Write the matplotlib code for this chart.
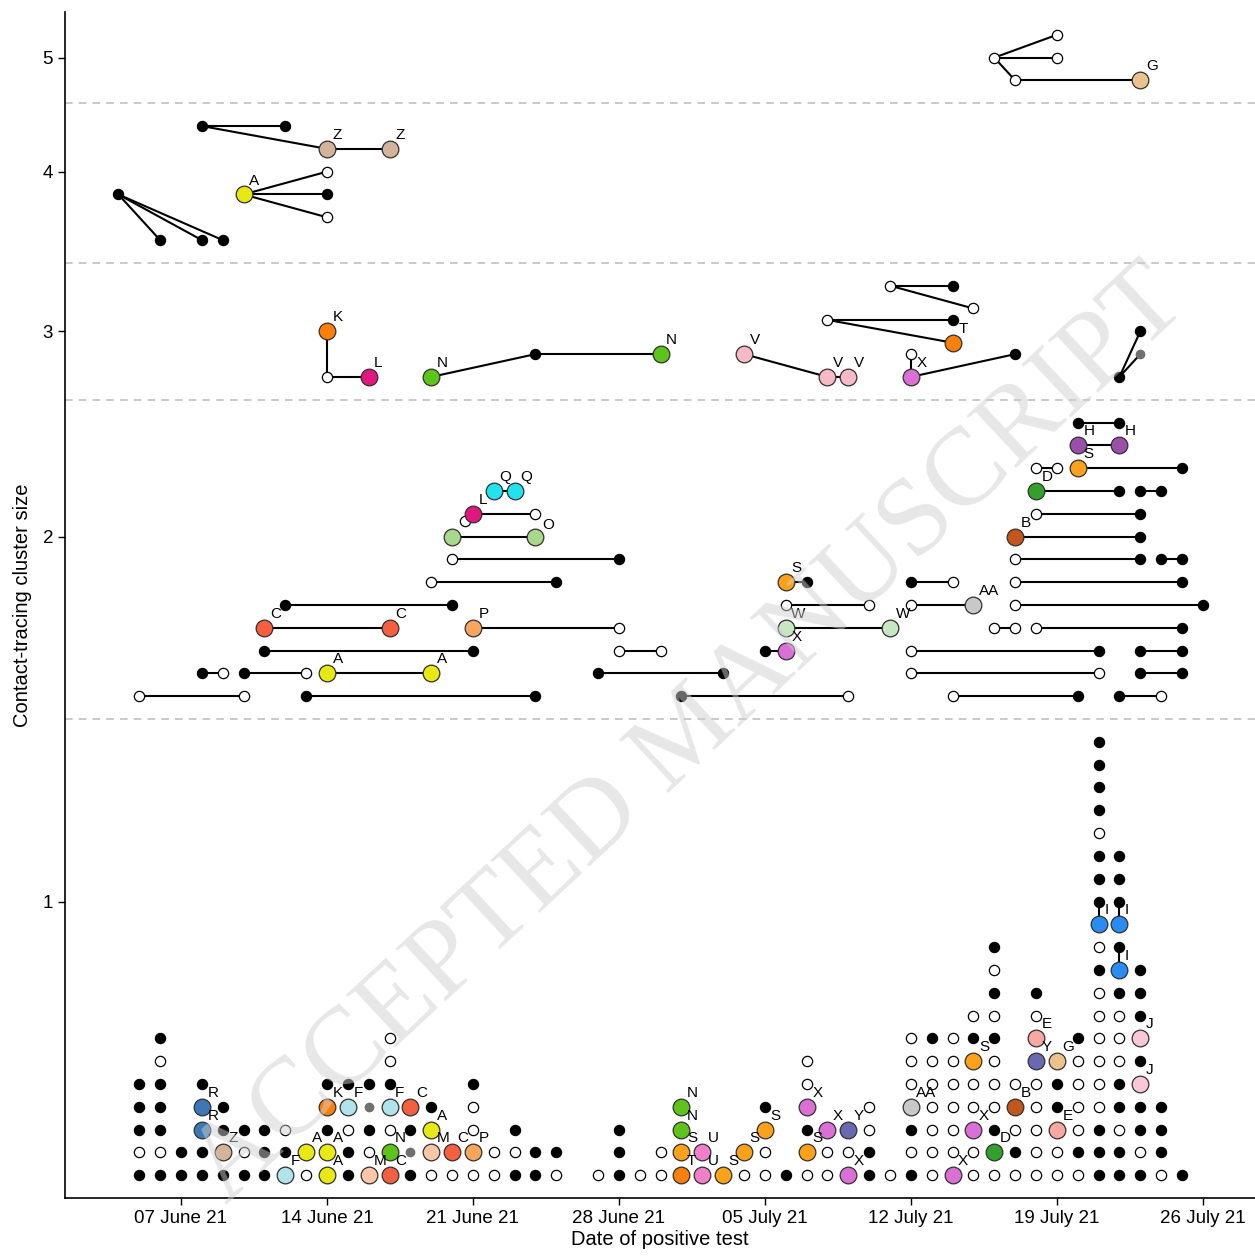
import numpy as np
import matplotlib
matplotlib.use('Agg')
import matplotlib.pyplot as plt
import matplotlib.dates as mdates

plt.rcParams['font.family'] = ['Liberation Sans', 'DejaVu Sans']

start_date = np.datetime64('2021-06-07')   # day 0

# --- cluster size 1: one stack per day (codes bottom to top) ---
# f = black, o = open, g = grey, letters = named cluster
single_days = [-2, -1, 0, 1, 2, 3, 4, 5, 6, 7, 8, 9, 10, 11, 12, 13, 14, 15, 16, 17, 18,
               20, 21, 22, 23, 24, 25, 26, 27, 28, 29, 30, 31, 32, 33, 34, 35, 36, 37, 38,
               39, 40, 41, 42, 43, 44, 45, 46, 47, 48]
single_stacks = [
    "f o f f f", "f o f f f o f", "f f", "f f R R f", "f Z f f", "f o f", "f f f",
    "F f o", "o A", "A A f K f", "f f o F f", "M o f g f", "C N o F f o o", "f g f C",
    "o M A f", "o C", "o P o o f", "o o", "f o f", "f f", "o f",
    "o", "f f f", "o", "o o", "T S N N", "U U", "S", "o S", "o o S f", "f",
    "o S f X o o", "o o X", "X o Y", "f f o o", "o", "f o f AA o o o", "o o o o o o f",
    "X o o o o o o", "o o X o o S f o", "o D f o o o f o f o f", "o f o B o",
    "o o o o o Y E o f", "o o E f f G", "o f o o o o f",
    "f f f o o o o o o f o I f f f o f f f f",
    "f f o f f o o o f I f I f f f", "f o f f J f J f f f", "o f f f", "f"]
single_links = [(44, 13, 12), (45, 13, 12), (45, 11, 10)]

# --- cluster size 2: (row, day a, code a, day b, code b) ---
pairs = [
    (22, -2, 'o', 3, 'o'), (22, 6, 'f', 17, 'f'), (22, 24, 'f', 32, 'o'),
    (22, 37, 'o', 43, 'f'), (22, 45, 'f', 47, 'o'),
    (23, 1, 'f', 2, 'o'), (23, 3, 'f', 6, 'o'), (23, 7, 'A', 12, 'A'),
    (23, 20, 'f', 26, 'f'), (23, 35, 'o', 44, 'o'), (23, 46, 'f', 48, 'f'),
    (24, 4, 'f', 14, 'f'), (24, 21, 'o', 23, 'o'), (24, 28, 'f', 29, 'X'),
    (24, 35, 'o', 44, 'f'), (24, 46, 'f', 48, 'f'),
    (25, 4, 'C', 10, 'C'), (25, 14, 'P', 21, 'o'), (25, 29, 'W', 34, 'W'),
    (25, 39, 'o', 40, 'o'), (25, 41, 'o', 48, 'f'),
    (26, 5, 'f', 13, 'f'), (26, 29, 'o', 33, 'o'), (26, 35, 'o', 38, 'AA'),
    (26, 40, 'o', 49, 'f'),
    (27, 12, 'o', 18, 'f'), (27, 29, 'S', 30, 'f'), (27, 35, 'f', 37, 'o'),
    (27, 40, 'o', 48, 'f'),
    (28, 13, 'o', 21, 'f'), (28, 40, 'o', 46, 'f'), (28, 47, 'f', 48, 'f'),
    (29, 13, 'lg', 17, 'lg'), (29, 40, 'B', 46, 'f'),
    (30, 14, 'L', 17, 'O'), (30, 41, 'o', 46, 'f'),
    (31, 15, 'Q', 16, 'Q'), (31, 41, 'D', 45, 'f'), (31, 46, 'f', 47, 'f'),
    (32, 41, 'o', 42, 'o'), (32, 43, 'S', 48, 'f'),
    (33, 43, 'H', 45, 'H'),
    (34, 43, 'f', 45, 'f'),
]
pair_extra = [(13.6, 29.7, 'o')]

# --- cluster sizes 3-5: nodes (day, row, code) and edges ---
tree_nodes = [
    (7, 38, 'K'), (7, 36, 'o'), (9, 36, 'L'),
    (12, 36, 'N'), (17, 37, 'f'), (23, 37, 'N'),
    (27, 37, 'V'), (31, 36, 'V'), (32, 36, 'V'),
    (34, 40, 'o'), (37, 40, 'f'), (38, 39, 'o'),
    (31, 38.5, 'o'), (37, 38.5, 'f'), (37, 37.5, 'T'),
    (35, 37, 'o'), (35, 36, 'X'), (40, 37, 'f'),
    (45, 36, 'f'), (46, 38, 'f'), (46, 37, 'g'),
    (1, 47, 'f'), (5, 47, 'f'), (7, 46, 'Z'), (10, 46, 'Z'),
    (3, 44, 'A'), (7, 45, 'o'), (7, 44, 'f'), (7, 43, 'o'),
    (-3, 44, 'f'), (-1, 42, 'f'), (1, 42, 'f'), (2, 42, 'f'),
    (39, 50, 'o'), (42, 51, 'o'), (42, 50, 'o'), (40, 49, 'o'), (46, 49, 'G'),
]
tree_edges = [(0, 1), (1, 2), (3, 4), (4, 5), (6, 7), (7, 8), (9, 10), (9, 11),
              (12, 13), (12, 14), (15, 16), (16, 17), (18, 19), (18, 20),
              (21, 22), (21, 23), (23, 24), (25, 26), (25, 27), (25, 28),
              (29, 30), (29, 31), (29, 32), (33, 34), (33, 35), (33, 36), (36, 37)]

size_ticks = [13, 29, 38, 45, 50]
size_labels = ['1', '2', '3', '4', '5']
section_breaks = [21, 35, 41, 48]

cluster_colours = {
    'A': '#E8E815', 'B': '#C2561C', 'C': '#F4603F', 'D': '#33A02C', 'E': '#F6A8A2',
    'F': '#B0E4EA', 'G': '#E9C28E', 'H': '#9A4FA8', 'I': '#2A8CF0', 'J': '#F9C8D8',
    'K': '#FB7F0A', 'L': '#E0177E', 'M': '#FCC6A8', 'N': '#5EC41C', 'P': '#F8A65E',
    'Q': '#22E2EC', 'R': '#3B78B4', 'S': '#FBA21A', 'T': '#FB7F0A', 'U': '#F07FC9',
    'V': '#F8B9C6', 'W': '#C9E6C2', 'X': '#DA70D6', 'Y': '#6A68B0', 'Z': '#D2B49A',
    'AA': '#C8C8C8', 'lg': '#A8D88C',
}

x0 = mdates.date2num(start_date)

fig = plt.figure(figsize=(12.55, 12.58), dpi=100)
ax = fig.add_axes([65 / 1255, 60 / 1258, 1 - 65 / 1255, 1186 / 1258])


def point(day, row, code):
    x = x0 + day
    if code == 'f':
        ax.plot(x, row, 'o', ms=7.4, mfc='black', mec='black', mew=0.8, zorder=3)
    elif code in ('o', 'O'):
        ax.plot(x, row, 'o', ms=7.4, mfc='white', mec='black', mew=0.9, zorder=3)
        if code == 'O':
            ax.annotate('O', (x, row), xytext=(5, -8), textcoords='offset points',
                        fontsize=11, ha='left', va='center', zorder=5)
    elif code == 'g':
        ax.plot(x, row, 'o', ms=6, mfc='#707070', mec='#707070', zorder=3)
    else:
        ax.plot(x, row, 'o', ms=12, mfc=cluster_colours[code], mec='#303030',
                mew=0.9, zorder=4)
        if code != 'lg':
            ax.annotate(code, (x, row), xytext=(4, 5), textcoords='offset points',
                        fontsize=11, ha='left', va='bottom', zorder=5)


def link(da, ra, db, rb):
    ax.plot([x0 + da, x0 + db], [ra, rb], color='black', lw=1.5, zorder=2,
            solid_capstyle='butt')


for day, stack in zip(single_days, single_stacks):
    for i, code in enumerate(stack.split()):
        point(day, i + 1, code)
for day, ra, rb in single_links:
    link(day, ra, day, rb)

for row, da, ca, db, cb in pairs:
    link(da, row, db, row)
    point(da, row, ca)
    point(db, row, cb)
for day, row, code in pair_extra:
    point(day, row, code)

for i, j in tree_edges:
    link(tree_nodes[i][0], tree_nodes[i][1], tree_nodes[j][0], tree_nodes[j][1])
for day, row, code in tree_nodes:
    point(day, row, code)

for b in section_breaks:
    ax.axhline(b, color='#BBBBBB', lw=1.1, ls=(0, (5, 4)), zorder=1)

ax.set_xlim(x0 - 5.56, x0 + 51.5)
ax.set_ylim(0, 52)
ax.set_yticks(size_ticks)
ax.set_yticklabels(size_labels)
ax.set_xticks([x0 + 7 * k for k in range(8)])
ax.xaxis.set_major_formatter(mdates.DateFormatter('%d %B %y'))
ax.tick_params(labelsize=13.5, length=5, width=1)
for s in ('top', 'right'):
    ax.spines[s].set_visible(False)
for s in ('left', 'bottom'):
    ax.spines[s].set_linewidth(1.2)
ax.set_xlabel('Date of positive test', fontsize=14.5, labelpad=2)
ax.set_ylabel('Contact-tracing cluster size', fontsize=14.5, labelpad=8)

# faint diagonal watermark
fig.text(0.55, 0.415, 'ACCEPTED MANUSCRIPT', rotation=43, fontsize=80,
         family='Liberation Serif', color='#D0D0D0', alpha=0.5,
         ha='center', va='center', zorder=10)

fig.savefig('out.png', dpi=100)
